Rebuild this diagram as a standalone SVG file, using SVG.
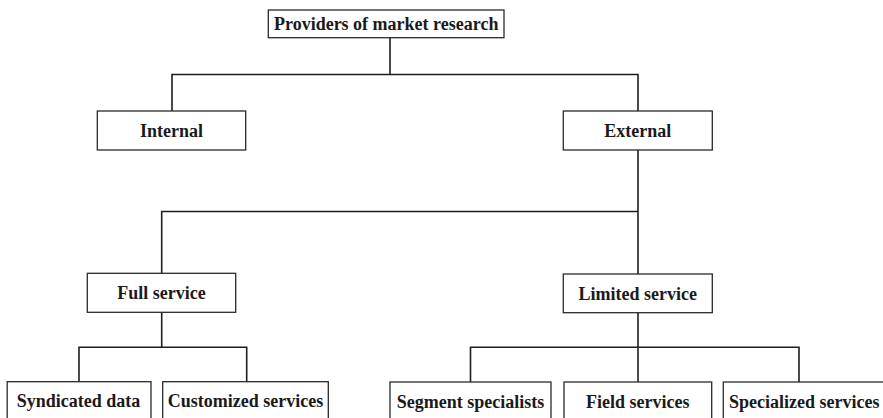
<svg xmlns="http://www.w3.org/2000/svg" width="883" height="418" viewBox="0 0 883 418">
  <style>
    .box { fill: #ffffff; stroke: #2a2a2a; stroke-width: 1.3; }
    .lbl { font-family: 'Liberation Serif', 'DejaVu Serif', serif; font-weight: bold; font-size: 18px; fill: #1a1a1a; text-anchor: middle; }
    .conn { fill: none; stroke: #1e1e1e; stroke-width: 1.6; }
  </style>
  <rect width="883" height="418" fill="#ffffff"/>

  <!-- connectors -->
  <g id="connectors" class="conn">
    <!-- root to Internal / External -->
    <path d="M390,38 V74.5 M172,111 V74.5 H638 V111"/>
    <!-- External to Full / Limited service -->
    <path d="M638,150 V274 M638,211.5 H161.7 V273.3"/>
    <!-- Full service to its children -->
    <path d="M161.7,312.3 V347.3 M79,382 V347.3 H246.7 V382"/>
    <!-- Limited service to its children -->
    <path d="M638,312.7 V382 M470.5,382 V347.3 H799 V382"/>
  </g>

  <g id="root">
    <rect class="box" x="268.3" y="10" width="235.7" height="27.7"/>
    <text class="lbl" x="386.2" y="30">Providers of market research</text>
  </g>

  <g id="internal">
    <rect class="box" x="97.3" y="111" width="148.4" height="39"/>
    <text class="lbl" x="171.5" y="136.7">Internal</text>
  </g>

  <g id="external">
    <rect class="box" x="563.3" y="111" width="149" height="39"/>
    <text class="lbl" x="637.8" y="136.7">External</text>
  </g>

  <g id="full-service">
    <rect class="box" x="87.3" y="273.3" width="148.4" height="39"/>
    <text class="lbl" x="161.5" y="299">Full service</text>
  </g>

  <g id="limited-service">
    <rect class="box" x="563.3" y="274" width="149" height="38.7"/>
    <text class="lbl" x="637.8" y="299.5">Limited service</text>
  </g>

  <g id="syndicated-data">
    <rect class="box" x="7.2" y="381.7" width="143.8" height="50"/>
    <text class="lbl" x="78.5" y="407.3">Syndicated data</text>
  </g>

  <g id="customized-services">
    <rect class="box" x="162.7" y="381.7" width="165.6" height="50"/>
    <text class="lbl" x="245.5" y="407.3">Customized services</text>
  </g>

  <g id="segment-specialists">
    <rect class="box" x="390" y="382" width="161" height="50"/>
    <text class="lbl" x="470.5" y="407.6">Segment specialists</text>
  </g>

  <g id="field-services">
    <rect class="box" x="564" y="382" width="147.7" height="50"/>
    <text class="lbl" x="637.8" y="407.6">Field services</text>
  </g>

  <g id="specialized-services">
    <rect class="box" x="723.3" y="382" width="165" height="50"/>
    <text class="lbl" x="804.3" y="407.6">Specialized services</text>
  </g>
</svg>
